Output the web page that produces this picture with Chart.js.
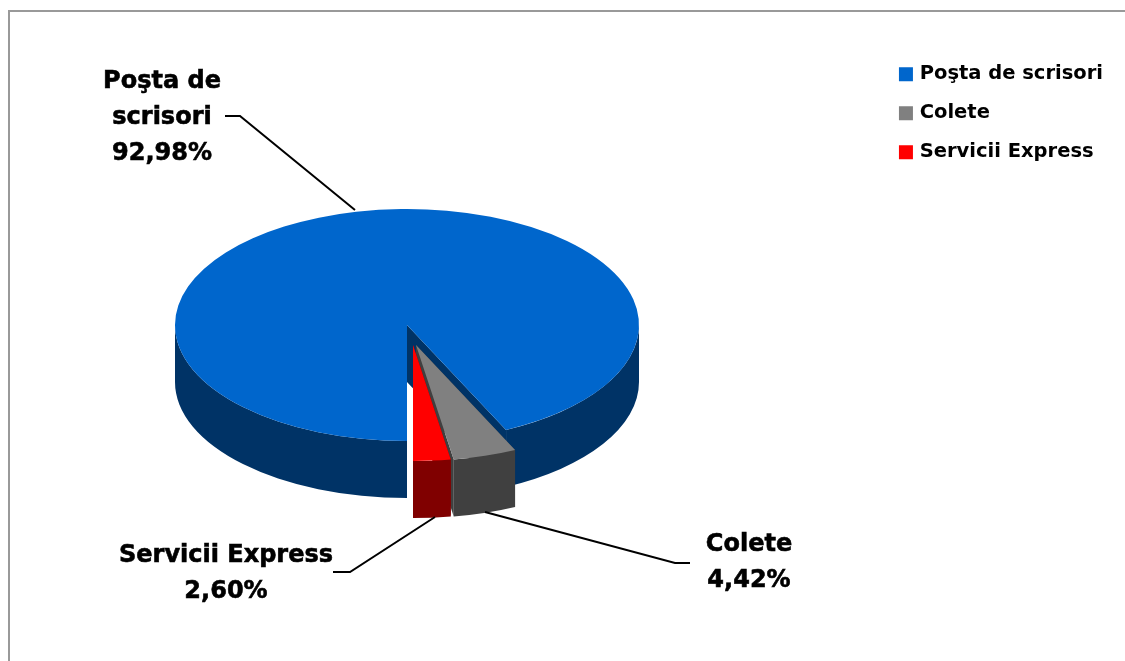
<!DOCTYPE html>
<html>
<head>
<meta charset="utf-8">
<title>Poşta de scrisori</title>
<script src="https://cdn.jsdelivr.net/npm/chart.js@4"></script>
<style>
  html, body { margin: 0; padding: 0; background: #fff; overflow: hidden; }
  #frame { position: absolute; left: 8px; top: 10px; width: 1130px; height: 670px; border: 2px solid #999; box-sizing: border-box; }
  #pie { position: absolute; left: 0; top: 0; }
</style>
</head>
<body>
<div id="frame"></div>
<canvas id="pie" width="1125" height="661"></canvas>
<script>
// data
const categories = ['Poşta de scrisori', 'Colete', 'Servicii Express'];
const shares = [92.98, 4.42, 2.60];

// colours
const topColors = ['#0066cc', '#808080', '#ff0000'];
const sideColors = ['#003366', '#404040', '#800000'];

// fake 3D: the flat pie gets squashed, moved and extruded
const FONT = 'DejaVu Sans, sans-serif';
const CENTER_X = 407, CENTER_Y = 325, PIE_RADIUS = 232, SQUASH = 0.5, DEPTH = 57;
const explode = [[0, 0], [9, 20], [6, 20]];

// callouts, text is built from the data further down
const callouts = [
  { i: 0, lines: ['Poşta de', 'scrisori'], x: 162, y: 82, lead: [[225, 116], [240, 116], [355, 210]] },
  { i: 1, lines: ['Colete'], x: 749, y: 545, lead: [[485, 512], [675, 563], [690, 563]] },
  { i: 2, lines: ['Servicii Express'], x: 226, y: 556, lead: [[333, 572], [350, 572], [435, 517]] }
];

function drawWalls(ctx, arc, color) {
  const cx = CENTER_X, cy = CENTER_Y, r = arc.outerRadius;
  const a0 = arc.startAngle, a1 = arc.endAngle;
  ctx.fillStyle = color;

  // the two cut faces
  [a0, a1].forEach(a => {
    const ex = cx + Math.cos(a) * r, ey = cy + Math.sin(a) * r * SQUASH;
    ctx.beginPath();
    ctx.moveTo(cx, cy);
    ctx.lineTo(ex, ey);
    ctx.lineTo(ex, ey + DEPTH);
    ctx.lineTo(cx, cy + DEPTH);
    ctx.closePath();
    ctx.fill();
  });

  // outer wall, only the part facing the viewer
  for (let k = 0; k < 3; k++) {
    const s = Math.max(a0, k * 2 * Math.PI), e = Math.min(a1, k * 2 * Math.PI + Math.PI);
    if (e <= s) continue;
    ctx.beginPath();
    ctx.ellipse(cx, cy, r, r * SQUASH, 0, s, e);
    ctx.ellipse(cx, cy + DEPTH, r, r * SQUASH, 0, e, s, true);
    ctx.closePath();
    ctx.fill();
  }
}

const pie3d = {
  id: 'pie3d',
  beforeDatasetDraw(chart, args) {
    const ctx = chart.ctx;
    chart.getDatasetMeta(args.index).data.forEach((arc, i) => {
      ctx.save();
      ctx.translate(explode[i][0], explode[i][1]);
      drawWalls(ctx, arc, sideColors[i]);
      ctx.translate(CENTER_X, CENTER_Y);
      ctx.scale(1, SQUASH);
      ctx.translate(-arc.x, -arc.y);
      arc.draw(ctx);
      ctx.restore();
    });
    return false;
  },
  afterDraw(chart) {
    const ctx = chart.ctx;
    ctx.save();
    ctx.strokeStyle = '#000';
    ctx.fillStyle = '#000';
    ctx.font = 'bold 24px ' + FONT;
    ctx.textAlign = 'center';
    ctx.textBaseline = 'middle';
    callouts.forEach(c => {
      ctx.lineWidth = 2;
      ctx.beginPath();
      c.lead.forEach((p, n) => n ? ctx.lineTo(p[0], p[1]) : ctx.moveTo(p[0], p[1]));
      ctx.stroke();
      // reference text is heavier than DejaVu bold
      ctx.lineWidth = 0.6;
      const text = c.lines.concat(shares[c.i].toFixed(2).replace('.', ',') + '%');
      text.forEach((t, n) => {
        ctx.fillText(t, c.x, c.y + n * 36);
        ctx.strokeText(t, c.x, c.y + n * 36);
      });
    });
    ctx.restore();
  }
};

new Chart(document.getElementById('pie'), {
  type: 'pie',
  data: {
    labels: categories,
    datasets: [{
      data: shares,
      backgroundColor: topColors,
      borderWidth: 0,
      radius: PIE_RADIUS,
      rotation: 180
    }]
  },
  plugins: [pie3d],
  options: {
    responsive: false,
    animation: false,
    events: [],
    layout: { padding: { top: 45, right: 12 } },
    plugins: {
      tooltip: { enabled: false },
      legend: {
        position: 'right',
        align: 'start',
        labels: {
          color: '#000',
          boxWidth: 8,
          boxHeight: 8,
          padding: 19.5,
          font: { family: FONT, size: 19.5, weight: 'bold' },
          // thick same colour stroke gives the 14px box and the tight gap to the text
          generateLabels: () => categories.map((name, i) => ({
            text: name, fillStyle: topColors[i], strokeStyle: topColors[i], lineWidth: 6, index: i
          }))
        }
      }
    }
  }
});
</script>
</body>
</html>
